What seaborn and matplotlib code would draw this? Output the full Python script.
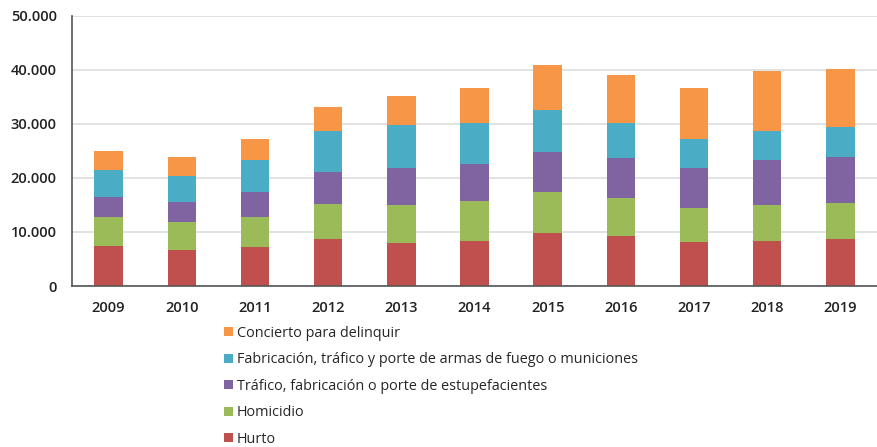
import numpy as np
import pandas as pd
import matplotlib
matplotlib.use("Agg")
import matplotlib.pyplot as plt
from matplotlib.patches import Patch
from matplotlib.ticker import FuncFormatter
import seaborn as sns

# Data (cases per year)
years = ["2009", "2010", "2011", "2012", "2013", "2014", "2015", "2016", "2017", "2018", "2019"]
hurto = [7460, 6670, 7220, 8770, 8020, 8400, 9810, 9200, 8200, 8400, 8770]
homicidio = [5370, 5230, 5610, 6420, 6980, 7340, 7660, 7100, 6240, 6600, 6600]
estupefacientes = [3650, 3710, 4520, 5980, 6910, 6850, 7400, 7400, 7470, 8330, 8520]
armas = [5060, 4820, 5920, 7530, 7780, 7650, 7720, 6540, 5250, 5370, 5430]
concierto = [3460, 3460, 3890, 4390, 5440, 6430, 8340, 8830, 9510, 10990, 10740]

labels = ["Hurto", "Homicidio", "Tráfico, fabricación o porte de estupefacientes",
          "Fabricación, tráfico y porte de armas de fuego o municiones",
          "Concierto para delinquir"]
colors = ["#C0504D", "#9BBB59", "#8064A2", "#4BACC6", "#F79646"]

df = pd.DataFrame({"Año": years, labels[0]: hurto, labels[1]: homicidio,
                   labels[2]: estupefacientes, labels[3]: armas, labels[4]: concierto})

sns.set_style("white")
plt.rcParams["font.family"] = ["Open Sans", "DejaVu Sans"]

fig = plt.figure(figsize=(8.77, 4.47), dpi=100)
ax = fig.add_axes([72 / 877, 1 - 286 / 447, 1 - 72 / 877, (286 - 15.7) / 447])

# stacked bars: draw cumulative totals from the top layer down
cum = df[labels].cumsum(axis=1)
for lab, col in reversed(list(zip(labels, colors))):
    sns.barplot(x=df["Año"], y=cum[lab], color=col, width=0.39,
                saturation=1, linewidth=0, ax=ax)

ax.set_ylim(0, 50000)
ax.set_xlim(-0.5, 10.38)
ax.set_yticks(range(0, 50001, 10000))
ax.yaxis.set_major_formatter(FuncFormatter(lambda v, p: f"{int(v):,}".replace(",", ".")))
ax.grid(axis="y", color="#dddddd", linewidth=1.2)
ax.set_axisbelow(True)
ax.set_xlabel("")
ax.set_ylabel("")

for s in ["top", "right"]:
    ax.spines[s].set_visible(False)
for s in ["left", "bottom"]:
    ax.spines[s].set_color("#555555")
    ax.spines[s].set_linewidth(1.2)

ax.set_xticks(np.arange(-0.5, 11, 1), minor=True)
ax.tick_params(axis="x", which="major", length=0, pad=11, labelsize=10.5, colors="#222222")
ax.tick_params(axis="x", which="minor", length=5, width=1.2, color="#555555", direction="out")
ax.tick_params(axis="y", which="major", length=5, width=1.2, color="#555555", direction="out",
               pad=6, labelsize=10.5, labelcolor="#222222")
for t in ax.get_xticklabels() + ax.get_yticklabels():
    t.set_fontweight("semibold")

handles = [Patch(facecolor=c, edgecolor="none") for c in reversed(colors)]
fig.legend(handles, list(reversed(labels)), loc="upper left", bbox_to_anchor=(224 / 877, 1 - 326 / 447),
           frameon=False, fontsize=10.4, handlelength=0.6, handleheight=0.6, handletextpad=0.3,
           labelspacing=0.79, borderaxespad=0, borderpad=0)

fig.savefig("out.png", dpi=100)
